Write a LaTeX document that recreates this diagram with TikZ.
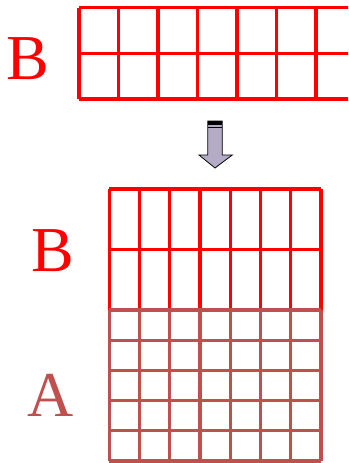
\documentclass[tikz,border=0pt]{standalone}
\usepackage{fontspec}
\setmainfont{Liberation Serif}
\usepackage{xcolor}
\definecolor{gridred}{HTML}{FF0000}
\definecolor{gridbrown}{HTML}{C0504D}
\definecolor{arrowfill}{HTML}{B4ACC6}
\begin{document}
\begin{tikzpicture}[x=1pt,y=-1pt,
		letter/.style={font=\fontsize{64}{64}\selectfont,inner sep=0pt},
		redline/.style={draw=gridred,line width=3.4pt},
		brownline/.style={draw=gridbrown,line width=3.2pt}]
		\useasboundingbox (0,0) rectangle (348,463);
		\clip (0,0) rectangle (348,463);

		% labels
		\node[letter,text=gridred]   (btop) at (27.5,59)  {B};
		\node[letter,text=gridred]   (bbot) at (52.5,250.5) {B};
		\node[letter,text=gridbrown] (abot) at (51,395)   {A};

		% upper block B
		\foreach \y in {7.5,53.25,99} \draw[redline] (79,\y) -- (360,\y);
		\foreach \i in {0,...,7} \draw[redline] (79+39.5*\i,7.5) -- (79+39.5*\i,99);

		% lower block B
		\foreach \y in {189,249.5} \draw[redline] (109.3,\y) -- (321,\y);
		\foreach \i in {0,...,7} \draw[redline] (109.3+30.24*\i,189) -- (109.3+30.24*\i,310);

		% lower block A
		\foreach \j in {0,...,5} \draw[brownline] (109.3,310+30.2*\j) -- (321,310+30.2*\j);
		\foreach \i in {0,...,7} \draw[brownline] (109.3+30.24*\i,310) -- (109.3+30.24*\i,461);

		% arrow
		\draw[fill=arrowfill,line width=0.8pt] (207.8,121) -- (222.3,121) -- (222.3,155) -- (232.3,155)
			-- (215,168) -- (199,155) -- (207.8,155) -- cycle;
		\fill (207.8,121) rectangle (222.3,125.2);
		\draw[line width=0.9pt] (207.8,127) -- (222.3,127);
	\end{tikzpicture}
\end{document}
